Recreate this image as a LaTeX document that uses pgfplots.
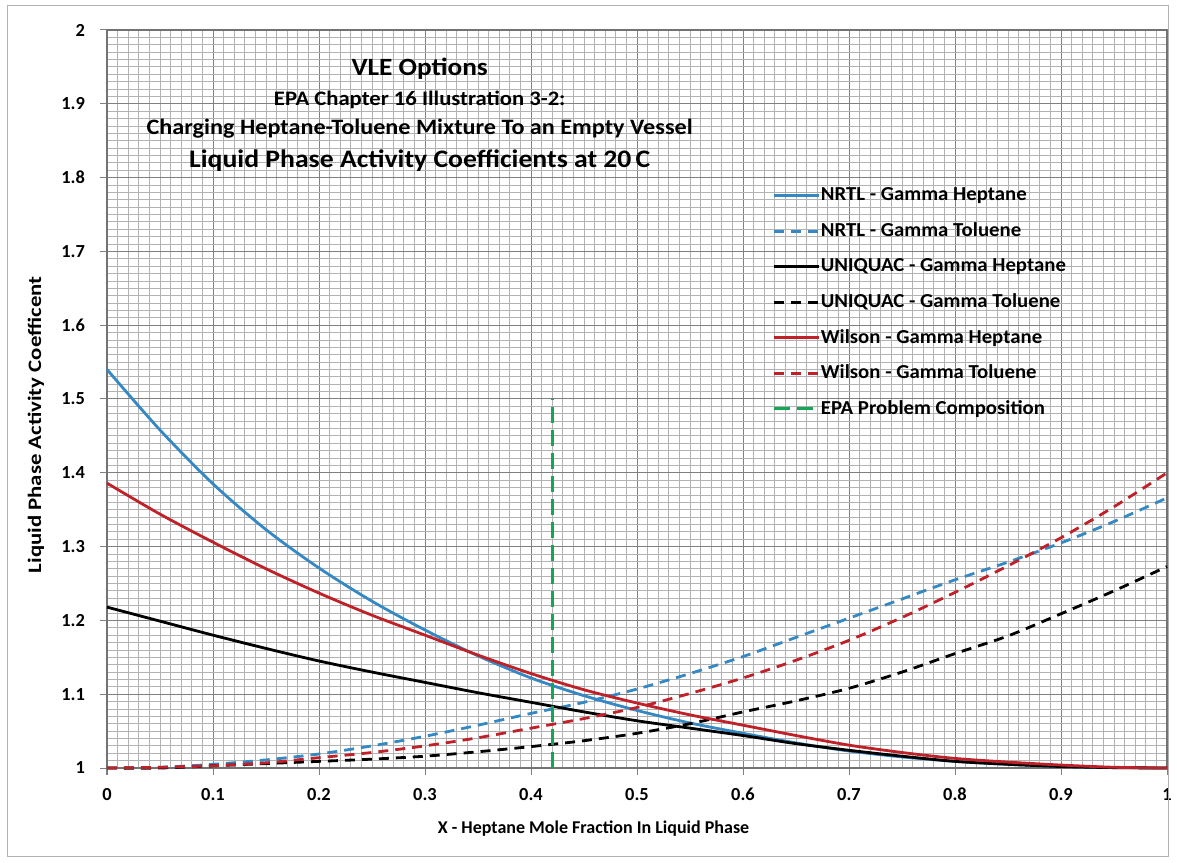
\documentclass[border=0pt]{standalone}
\usepackage{fontspec}
\setmainfont{Carlito}
\newfontfamily\titlefont{Carlito}[FakeStretch=1.1]
\newfontfamily\legfont{Carlito}[FakeStretch=1.05]
\newfontfamily\ylabfont{Carlito}[FakeStretch=1.2]
\usepackage{pgfplots}
\pgfplotsset{compat=1.18}
\definecolor{cblue}{RGB}{52,136,196}
\definecolor{cred}{RGB}{192,32,40}
\definecolor{cgreen}{RGB}{20,165,85}
\begin{document}
\begin{tikzpicture}
\begin{axis}[
  scale only axis, width=530pt, height=369pt,
  xmin=0, xmax=1, ymin=1, ymax=2,
  xtick={0,0.1,...,1.0}, ytick={1,1.1,...,2.0},
  minor x tick num=9, minor y tick num=9,
  grid=both,
  major grid style={black!50, line width=0.5pt},
  minor grid style={black!30, line width=0.4pt},
  tick align=outside, major tick length=3.5pt, minor tick length=0pt,
  tick style={black!50, line width=0.5pt},
  axis line style={black!55, line width=0.6pt},
  xtick pos=bottom, ytick pos=left,
  /pgf/number format/assume math mode=true,
  xticklabel style={font=\fontsize{9.2}{10}\selectfont\bfseries, yshift=-3pt},
  yticklabel style={font=\fontsize{9.2}{10}\selectfont\bfseries, xshift=-4pt},
  xticklabel={\pgfmathprintnumber[fixed, precision=1]{\tick}},
  yticklabel={\pgfmathprintnumber[fixed, precision=1]{\tick}},
  xlabel={X - Heptane Mole Fraction In Liquid Phase},
  ylabel={Liquid Phase Activity Coefficent},
  xlabel style={font=\fontsize{9}{10}\selectfont\bfseries, at={(axis description cs:0.459,-0.0827)}, anchor=center},
  ylabel style={font=\ylabfont\fontsize{9.5}{10}\selectfont\bfseries, at={(axis description cs:-0.067,0.465)}, anchor=center},
  legend style={at={(axis cs:0.628,1.8)}, anchor=north west, draw=none, fill=none,
     font=\legfont\fontsize{9.9}{11}\selectfont\bfseries, inner sep=0pt, row sep=0pt,
     nodes={inner sep=0pt, minimum height=17.75pt},
     /tikz/every even column/.append style={column sep=3pt}},
  legend cell align=left,
  legend image code/.code={\draw[#1] (0pt,0pt) -- (22.5pt,0pt);},
  every axis plot/.append style={line width=1.4pt},
  clip=false,
]
\addplot[cblue, smooth] coordinates {
(0,1.540) (0.05,1.458) (0.1,1.385) (0.15,1.323) (0.2,1.271) (0.25,1.226) (0.3,1.187) (0.35,1.152) (0.4,1.122) (0.45,1.098) (0.5,1.078) (0.55,1.061) (0.6,1.047) (0.65,1.034) (0.7,1.023) (0.75,1.015) (0.8,1.009) (0.85,1.005) (0.9,1.002) (0.95,1.0005) (1,1.000)};
\addlegendentry{NRTL - Gamma Heptane}
\addplot[cblue, smooth, dash pattern=on 5pt off 3.5pt] coordinates {
(0,1.000) (0.05,1.001) (0.1,1.005) (0.15,1.011) (0.2,1.019) (0.25,1.030) (0.3,1.043) (0.35,1.058) (0.4,1.074) (0.45,1.089) (0.5,1.107) (0.55,1.128) (0.6,1.151) (0.65,1.177) (0.7,1.203) (0.75,1.229) (0.8,1.255) (0.85,1.279) (0.9,1.305) (0.95,1.334) (1,1.366)};
\addlegendentry{NRTL - Gamma Toluene}
\addplot[black, smooth] coordinates {
(0,1.218) (0.05,1.199) (0.1,1.180) (0.15,1.162) (0.2,1.145) (0.25,1.130) (0.3,1.116) (0.35,1.102) (0.4,1.089) (0.45,1.076) (0.5,1.064) (0.55,1.054) (0.6,1.044) (0.65,1.033) (0.7,1.024) (0.75,1.016) (0.8,1.009) (0.85,1.005) (0.9,1.002) (0.95,1.0005) (1,1.000)};
\addlegendentry{UNIQUAC - Gamma Heptane}
\addplot[black, smooth, dash pattern=on 5pt off 3.5pt] coordinates {
(0,1.000) (0.05,1.000) (0.1,1.003) (0.15,1.006) (0.2,1.009) (0.25,1.012) (0.3,1.016) (0.35,1.022) (0.4,1.029) (0.45,1.037) (0.5,1.047) (0.55,1.060) (0.6,1.076) (0.65,1.091) (0.7,1.108) (0.75,1.130) (0.8,1.155) (0.85,1.179) (0.9,1.209) (0.95,1.240) (1,1.273)};
\addlegendentry{UNIQUAC - Gamma Toluene}
\addplot[cred, smooth] coordinates {
(0,1.386) (0.05,1.344) (0.1,1.306) (0.15,1.270) (0.2,1.237) (0.25,1.207) (0.3,1.180) (0.35,1.153) (0.4,1.128) (0.45,1.106) (0.5,1.088) (0.55,1.072) (0.6,1.058) (0.65,1.044) (0.7,1.031) (0.75,1.021) (0.8,1.013) (0.85,1.008) (0.9,1.004) (0.95,1.001) (1,1.000)};
\addlegendentry{Wilson - Gamma Heptane}
\addplot[cred, smooth, dash pattern=on 5pt off 3.5pt] coordinates {
(0,1.000) (0.05,1.001) (0.1,1.003) (0.15,1.007) (0.2,1.014) (0.25,1.021) (0.3,1.030) (0.35,1.041) (0.4,1.054) (0.45,1.067) (0.5,1.082) (0.55,1.101) (0.6,1.122) (0.65,1.146) (0.7,1.173) (0.75,1.204) (0.8,1.238) (0.85,1.274) (0.9,1.312) (0.95,1.354) (1,1.400)};
\addlegendentry{Wilson - Gamma Toluene}
\addplot[cgreen, dash pattern=on 8pt off 3.5pt] coordinates {(0.42,1.0) (0.42,1.5)};
\addlegendentry{EPA Problem Composition}
\node[font=\titlefont\fontsize{12.4}{14}\selectfont\bfseries] at (axis cs:0.295,1.947) {VLE Options};
\node[font=\titlefont\fontsize{10.3}{12}\selectfont\bfseries] at (axis cs:0.295,1.905) {EPA Chapter 16 Illustration 3-2:};
\node[font=\titlefont\fontsize{11}{12}\selectfont\bfseries] at (axis cs:0.295,1.866) {Charging Heptane-Toluene Mixture To an Empty Vessel};
\node[font=\titlefont\fontsize{12.6}{14}\selectfont\bfseries] at (axis cs:0.295,1.823) {Liquid Phase Activity Coefficients at 20\,C};
\coordinate (SW) at (rel axis cs:0,0);
\end{axis}
\pgfresetboundingbox
\draw[black!30, line width=0.5pt] (SW) ++(-49.5pt,-44pt) rectangle ++(580pt,425pt);
\path[use as bounding box] (SW) ++(-53.5pt,-47pt) rectangle ++(588.5pt,431pt);
\end{tikzpicture}
\end{document}
